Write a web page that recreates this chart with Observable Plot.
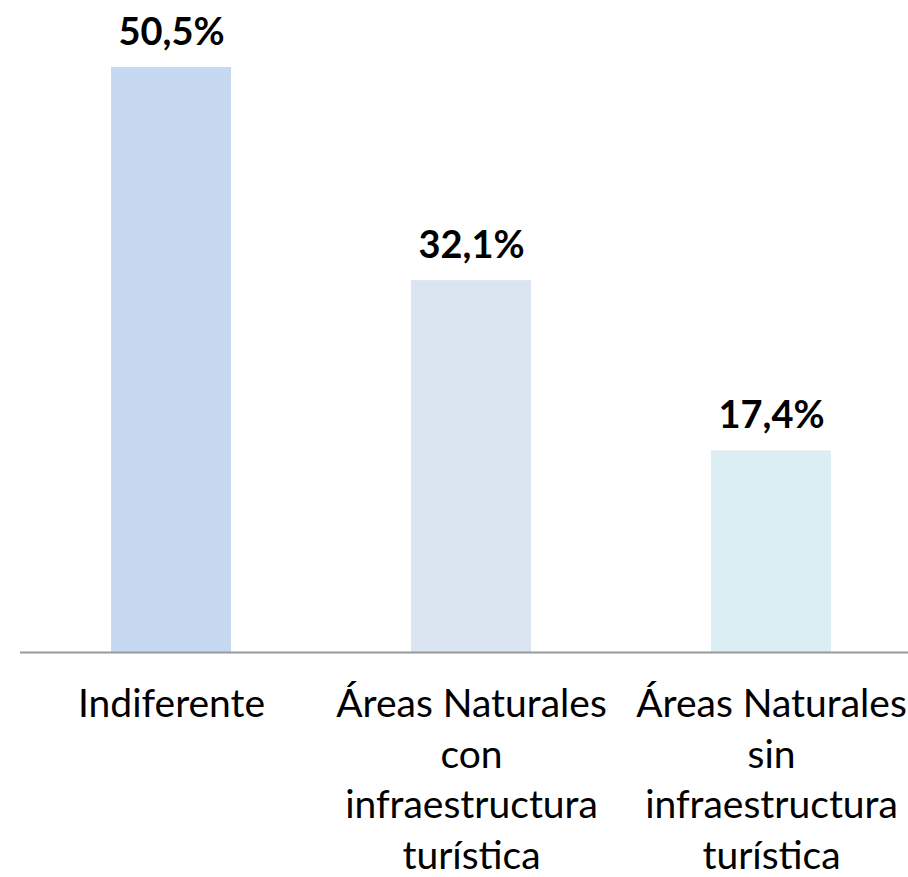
<!DOCTYPE html>
<html>
<head>
<meta charset="utf-8">
<script src="https://cdn.jsdelivr.net/npm/d3@7"></script>
<script src="https://cdn.jsdelivr.net/npm/@observablehq/plot@0.6"></script>
<style>
  html, body { margin: 0; padding: 0; background: #fff; }
</style>
</head>
<body>
<div id="chart"></div>
<script>
const categories = ["Indiferente", "Áreas Naturales con infraestructura turística", "Áreas Naturales sin infraestructura turística"];
const tickLabels = ["Indiferente", "Áreas Naturales\ncon\ninfraestructura\nturística", "Áreas Naturales\nsin\ninfraestructura\nturística"];
const values = [50.5, 32.1, 17.4];
const valueLabels = ["50,5%", "32,1%", "17,4%"];
const colors = ["#C6D9F1", "#DBE5F1", "#DBEEF3"];

const data = categories.map((c, i) => ({cat: c, value: values[i], label: valueLabels[i], tick: tickLabels[i], color: colors[i]}));

const chart = Plot.plot({
  width: 908,
  height: 877,
  marginTop: 67,
  marginBottom: 225,
  marginLeft: 20,
  marginRight: 0,
  x: {type: "band", domain: categories, range: [21, 921], paddingInner: 0.6, paddingOuter: 0.3, axis: null},
  y: {domain: [0, 50.5], axis: null},
  marks: [
    Plot.barY(data, {x: "cat", y: "value", fill: d => d.color}),
    Plot.ruleY([0], {stroke: "#999", strokeWidth: 2}),
    Plot.text(data, {x: "cat", y: "value", text: "label", lineAnchor: "bottom", dy: -23, fontSize: 38, fontWeight: "bold", fontFamily: "Lato, sans-serif", fill: "#000"}),
    Plot.text(data, {x: "cat", y: 0, text: "tick", lineAnchor: "top", dy: 29, lineHeight: 1.295, fontSize: 39, fontFamily: "Lato, sans-serif", fill: "#000"})
  ]
});
document.getElementById("chart").appendChild(chart);
</script>
</body>
</html>
